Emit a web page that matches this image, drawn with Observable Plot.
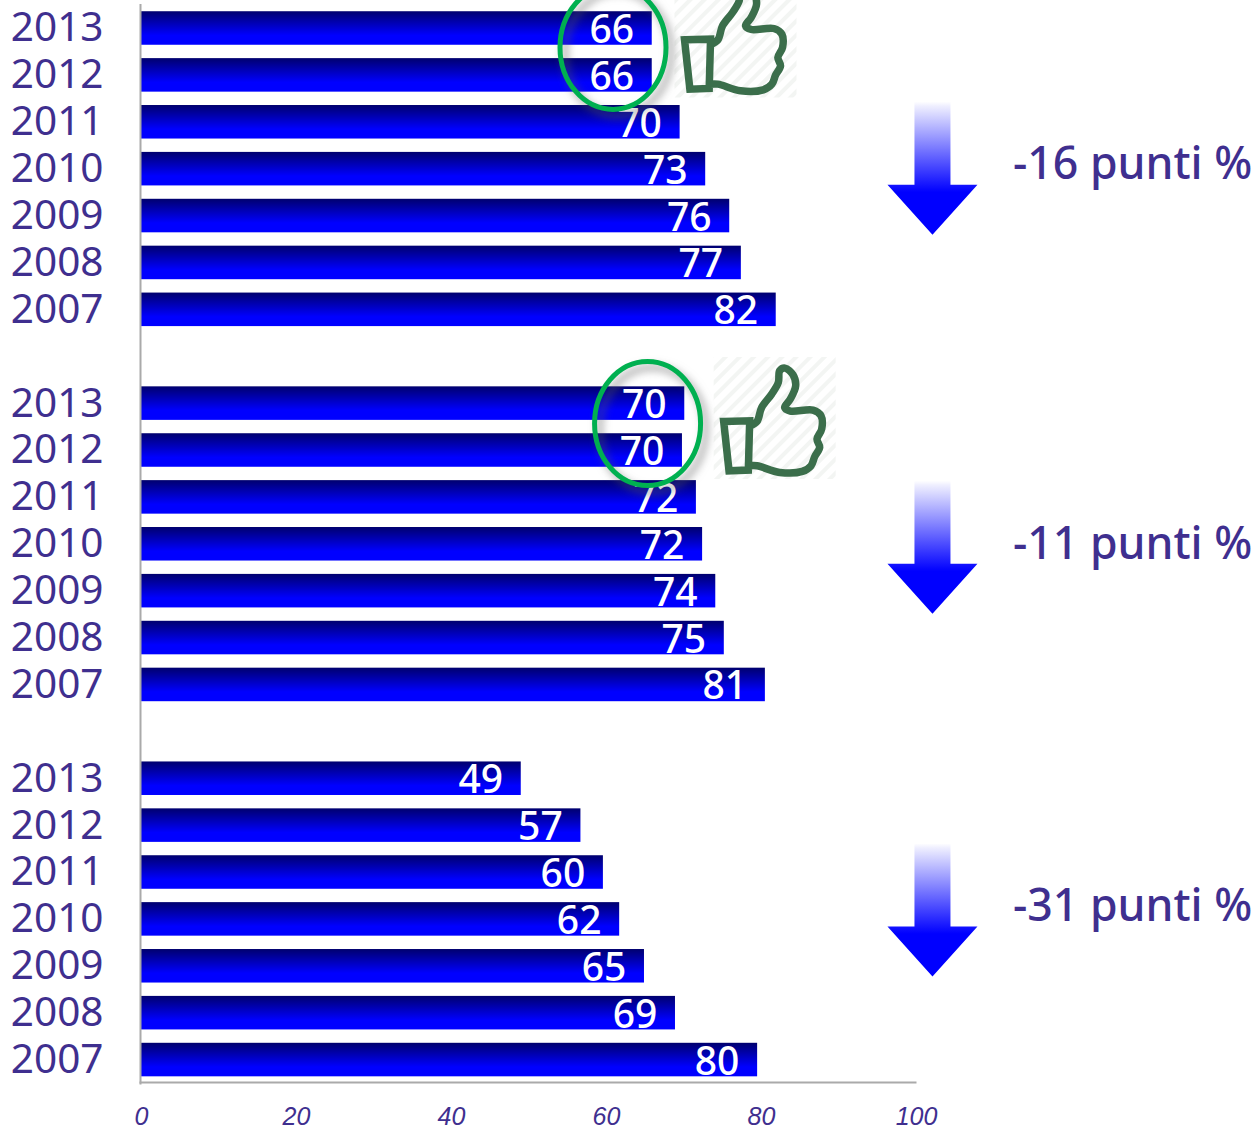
<!DOCTYPE html>
<html><head><meta charset="utf-8">
<script src="https://cdn.jsdelivr.net/npm/d3@7"></script>
<script src="https://cdn.jsdelivr.net/npm/@observablehq/plot@0.6"></script>
<style>
html,body{margin:0;padding:0;background:#fff;overflow:hidden}
svg{display:block}
g[stroke="#00b050"] path{filter:drop-shadow(5px 6px 4px rgba(90,90,90,.6))}
g[stroke="#3b6e4b"] path{filter:blur(.6px)}
</style></head><body>
<script>
const years = [2013, 2012, 2011, 2010, 2009, 2008, 2007];
const groupA = [65.9, 65.9, 69.5, 72.8, 75.9, 77.4, 81.9];
const groupB = [70.1, 69.8, 71.6, 72.4, 74.1, 75.2, 80.5];
const groupC = [49, 56.7, 59.6, 61.7, 64.9, 68.9, 79.5];
const groups = ["A", "B", "C"];
const seriesValues = [groupA, groupB, groupC];
const changes = ["-16 punti %", "-11 punti %", "-31 punti %"];
const xTicks = [0, 20, 40, 60, 80, 100];

const rows = groups.flatMap((g, i) => years.map((year, j) => ({key: g + year, year, value: seriesValues[i][j]})));
const domain = groups.flatMap((g, i) => [...years.map(y => g + y), ...(i < 2 ? ["gap" + i] : [])]);

const ink = "#3f2f8f";
const sans = "'Noto Sans', 'Open Sans', sans-serif";

function defs() {
  const svg = d3.create("svg:defs");
  const bar = svg.append("linearGradient").attr("id", "barFill").attr("x1", 0).attr("x2", 0).attr("y1", 0).attr("y2", 1);
  bar.append("stop").attr("offset", "0").attr("stop-color", "#00006e");
  bar.append("stop").attr("offset", "0.72").attr("stop-color", "#0000ff");
  bar.append("stop").attr("offset", "1").attr("stop-color", "#0000ff");
  const arrow = svg.append("linearGradient").attr("id", "arrowFill").attr("x1", 0).attr("x2", 0).attr("y1", 0).attr("y2", 1);
  arrow.append("stop").attr("offset", "0").attr("stop-color", "#ffffff");
  arrow.append("stop").attr("offset", "0.03").attr("stop-color", "#f0f0ff");
  arrow.append("stop").attr("offset", "0.68").attr("stop-color", "#0000ff");
  arrow.append("stop").attr("offset", "1").attr("stop-color", "#0000ff");
  const hatch = svg.append("pattern").attr("id", "hatch").attr("width", 10).attr("height", 10)
    .attr("patternUnits", "userSpaceOnUse").attr("patternTransform", "rotate(-45)");
  hatch.append("rect").attr("width", 10).attr("height", 10).attr("fill", "#fff");
  hatch.append("rect").attr("width", 10).attr("height", 4).attr("fill", "#f3f5f3");
  return svg.node();
}

const arrowSymbol = {draw(c) {
  c.moveTo(-18, -67.5); c.lineTo(18, -67.5); c.lineTo(18, 15.5); c.lineTo(45, 15.5);
  c.lineTo(0, 65.5); c.lineTo(-45, 15.5); c.lineTo(-18, 15.5); c.closePath();
}};
const ringSymbol = {draw(c) {
  const a = 53, b = 62, k = 0.5523;
  c.moveTo(a, 0);
  c.bezierCurveTo(a, k * b, k * a, b, 0, b);
  c.bezierCurveTo(-k * a, b, -a, k * b, -a, 0);
  c.bezierCurveTo(-a, -k * b, -k * a, -b, 0, -b);
  c.bezierCurveTo(k * a, -b, a, -k * b, a, 0);
  c.closePath();
}};
const squareSymbol = {draw(c) {
  c.moveTo(-61, -61); c.lineTo(61, -61); c.lineTo(61, 61); c.lineTo(-61, 61); c.closePath();
}};
const toLocal = ([px, py]) => [(px - 225) / 3, (py - 202) / 3];
const handOutline = [[150,226],[172,212],[186,170],[216,130],[236,95],[240,60],[256,52],[280,72],[288,105],[272,145],[255,170],[272,181],[340,178],[364,195],[366,235],[352,265],[360,290],[345,318],[334,345],[308,362],[240,365],[172,345],[150,345]].map(toLocal);
const cuffOutline = [[72,212],[150,210],[146,358],[88,360]].map(toLocal);
const thumbSymbol = {draw(c) {
  d3.line().curve(d3.curveCatmullRom).context(c)(handOutline);
  c.moveTo(...cuffOutline[0]);
  cuffOutline.slice(1).forEach(p => c.lineTo(...p));
  c.closePath();
}};

const glyph = (x, key, dy, symbol, opts) => Plot.dot([{x, key}], {x: "x", y: "key", dy, symbol, ...opts});

const plot = Plot.plot({
  width: 1257, height: 1127,
  marginTop: 4.55, marginBottom: 44, marginLeft: 141, marginRight: 341,
  style: {background: "#fff", overflow: "visible"},
  x: {domain: [0, 100], axis: null},
  y: {type: "band", domain, axis: null, paddingInner: 0.285, paddingOuter: 0.1425, round: false},
  marks: [
    defs,
    glyph(76.65, "A2013", 8, squareSymbol, {fill: "url(#hatch)"}),
    glyph(81.7, "B2013", 14.5, squareSymbol, {fill: "url(#hatch)"}),
    glyph(76.65, "A2013", 8, thumbSymbol, {fill: "none", stroke: "#3b6e4b", strokeWidth: 7.5}),
    glyph(81.7, "B2013", 14.5, thumbSymbol, {fill: "none", stroke: "#3b6e4b", strokeWidth: 7.5}),
    Plot.barX(rows, {x: "value", y: "key", fill: "url(#barFill)"}),
    Plot.text(rows, {x: "value", y: "key", text: d => String(Math.round(d.value)), dx: -40.5, dy: 2,
      fill: "#fff", fontSize: 39, fontFamily: sans, fontWeight: 500, textAnchor: "middle", lineAnchor: "middle"}),
    Plot.axisY({ticks: rows.map(d => d.key), tickFormat: k => k.slice(1), tickSize: 0, tickPadding: 38, label: null,
      fontSize: 40.5, fontFamily: sans, color: ink, fill: ink}),
    Plot.axisX(xTicks, {anchor: "bottom", tickSize: 0, tickPadding: 24, label: null,
      fontSize: 25, fontFamily: "'Liberation Sans', sans-serif", fontStyle: "italic", fill: ink}),
    Plot.frame({anchor: "left", stroke: "#aaa", strokeWidth: 2, dx: -1}),
    Plot.frame({anchor: "bottom", stroke: "#aaa", strokeWidth: 2, dx: -1, dy: -1}),
    glyph(60.84, "A2012", -28, ringSymbol, {fill: "none", stroke: "#00b050", strokeWidth: 5}),
    glyph(65.3, "B2012", -27, ringSymbol, {fill: "none", stroke: "#00b050", strokeWidth: 5}),
    glyph(102.06, "A2010", 0, arrowSymbol, {fill: "url(#arrowFill)"}),
    glyph(102.06, "B2010", 4, arrowSymbol, {fill: "url(#arrowFill)"}),
    glyph(102.06, "C2010", -8.5, arrowSymbol, {fill: "url(#arrowFill)"}),
    ...groups.map((g, i) => Plot.text([changes[i]], {x: () => 112.45, y: () => g + "2010", dy: [-4, 0, -12.5][i], text: d => d,
      textAnchor: "start", fontSize: 44.6, fontFamily: sans, fontWeight: 500, fill: ink}))
  ]
});
document.body.append(plot);
</script>
</body></html>
